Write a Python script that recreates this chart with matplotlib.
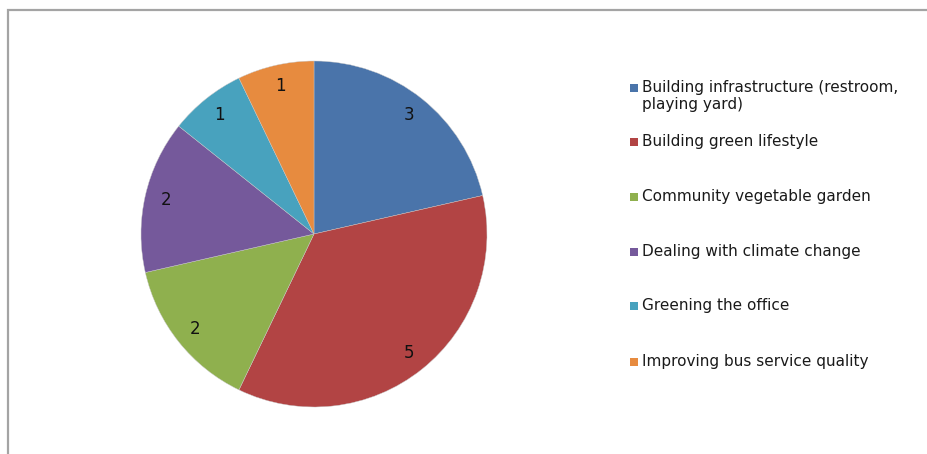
import matplotlib
matplotlib.use("Agg")
from matplotlib import pyplot as plt
from matplotlib.patches import Rectangle

# ------------------------------- Dados ------------------------------- #
categorias = [
    "Building infrastructure (restroom,\nplaying yard)",
    "Building green lifestyle",
    "Community vegetable garden",
    "Dealing with climate change",
    "Greening the office",
    "Improving bus service quality",
]
valores = [3, 5, 2, 2, 1, 1]
cores = ["#4A74AA", "#B24444", "#8FB04E", "#75599B", "#48A2BE", "#E78B3F"]

# ------------------------------- Figura ------------------------------- #
W, H = 927, 454
fig = plt.figure(figsize=(W / 100, H / 100), dpi=100)
fig.patch.set_facecolor("white")

# moldura cinza (sai pela direita e por baixo)
fig.patches.append(Rectangle((8 / W, -0.1), 1.2, (H - 10) / H + 0.1,
                             transform=fig.transFigure, fill=False,
                             edgecolor="#a4a4a4", linewidth=1.6))

# pizza: centro (314, 234) px, raio 173 px
cx, cy, r = 314, 234, 173
ax = fig.add_axes([(cx - r) / W, (H - cy - r) / H, 2 * r / W, 2 * r / H])
wedges, textos = ax.pie(valores, colors=cores, startangle=90, counterclock=False,
                        labels=[str(v) for v in valores], labeldistance=0.88,
                        wedgeprops=dict(linewidth=0.3, edgecolor="#c8c8c8"),
                        textprops=dict(fontsize=12, color="#111111"))
for t in textos:
    t.set_horizontalalignment("center")
    t.set_verticalalignment("center")
ax.set_xlim(-1, 1)
ax.set_ylim(-1, 1)
ax.set_aspect("equal")

# legenda manual
ys_legenda = [88, 142, 197, 252, 306, 362]
for cat, cor, y in zip(categorias, cores, ys_legenda):
    fig.patches.append(Rectangle((630 / W, (H - y - 4) / H), 8 / W, 8 / H,
                                 transform=fig.transFigure, facecolor=cor,
                                 edgecolor="none"))
    fig.text(642 / W, (H - y + 8) / H, cat, fontsize=11, color="#1a1a1a",
             va="top", ha="left", linespacing=1.15)

fig.savefig("out.png", dpi=100)
